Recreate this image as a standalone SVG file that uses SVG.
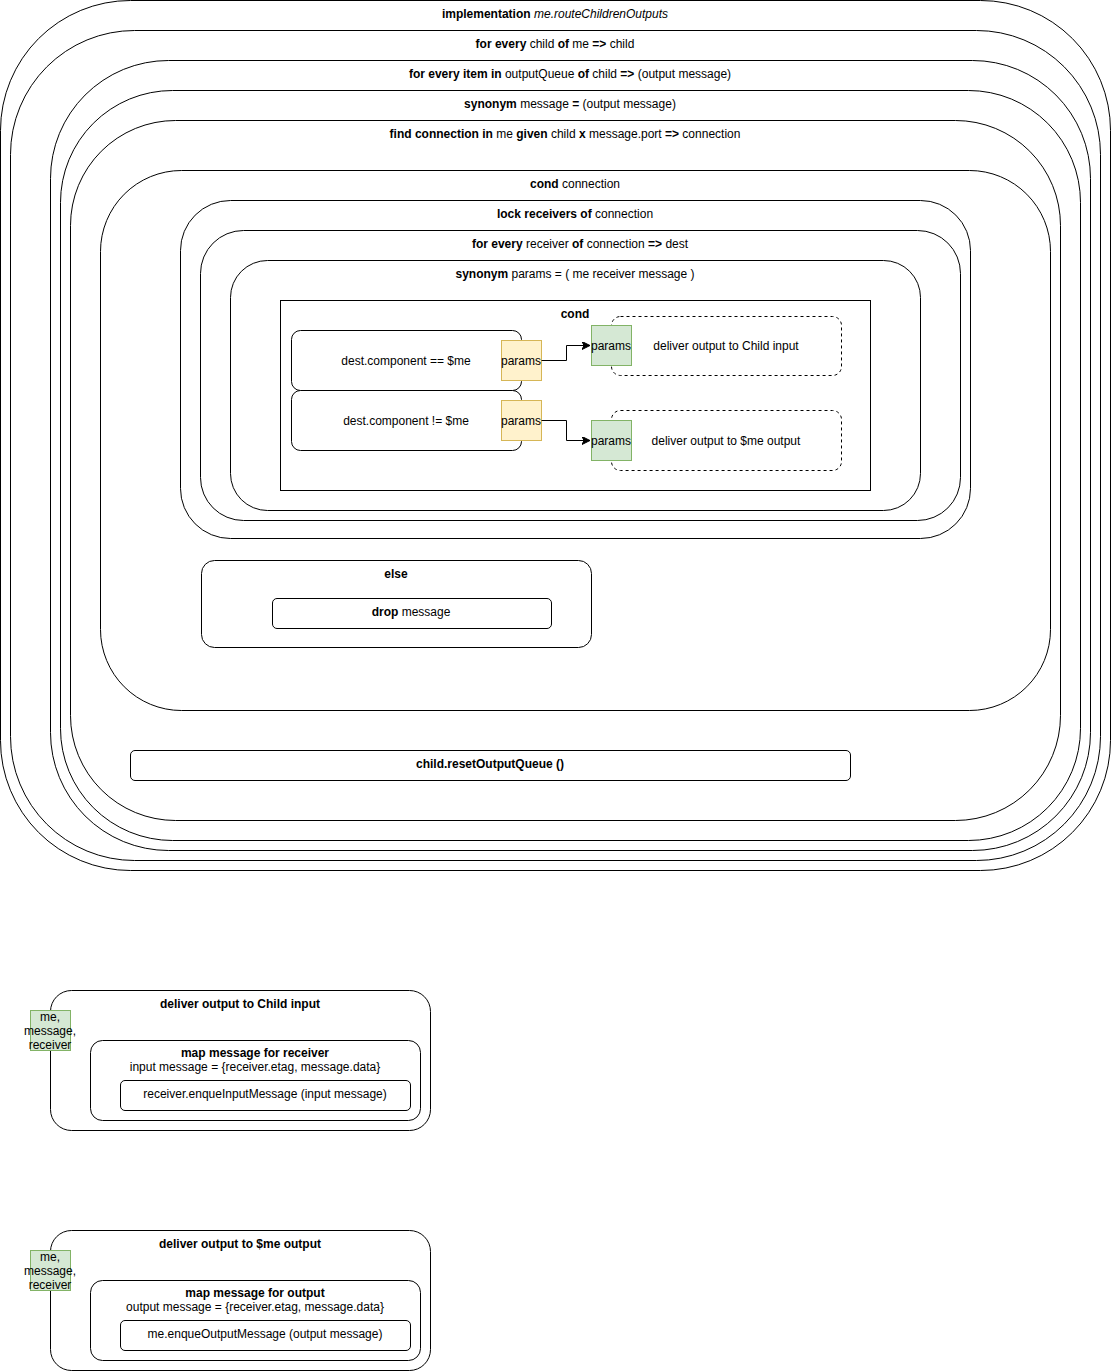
<svg xmlns="http://www.w3.org/2000/svg" width="1111" height="1371" viewBox="0 0 1111 1371">
<style>
text{font-family:"Liberation Sans",Arial,Helvetica,sans-serif;font-size:12px;fill:#000;text-anchor:middle}
.b{font-weight:bold}
.i{font-style:italic}
.box{fill:#fff;stroke:#000;stroke-width:1}
.nofill{fill:none;stroke:#000;stroke-width:1}
.dash{fill:#fff;stroke:#000;stroke-width:1;stroke-dasharray:3 3}
.green{fill:#d5e8d4;stroke:#82b366;stroke-width:1}
.yellow{fill:#fff2cc;stroke:#d6b656;stroke-width:1}
.edge{fill:none;stroke:#000;stroke-width:1}
</style>
<defs>
<marker id="arr" markerUnits="userSpaceOnUse" markerWidth="10" markerHeight="10" refX="8" refY="4" orient="auto">
<path d="M0,0 L8,4 L0,8 L2,4 Z" fill="#000" stroke="#000" stroke-width="1"/>
</marker>
</defs>
<rect width="1111" height="1371" fill="#fff"/>

<g id="impl">
<rect class="box" x="0.5" y="0.5" width="1110" height="870" rx="130" ry="130"/>
<text x="555" y="18"><tspan class="b">implementation</tspan> <tspan class="i">me.routeChildrenOutputs</tspan></text>
</g>
<g id="forEveryChild">
<rect class="box" x="10.5" y="30.5" width="1090" height="830" rx="124" ry="124"/>
<text x="555" y="48"><tspan class="b">for every</tspan> child <tspan class="b">of</tspan> me <tspan class="b">=&gt;</tspan> child</text>
</g>
<g id="forEveryItem">
<rect class="box" x="50.5" y="60.5" width="1040" height="790" rx="118" ry="118"/>
<text x="570" y="78"><tspan class="b">for every item in</tspan> outputQueue <tspan class="b">of</tspan> child <tspan class="b">=&gt;</tspan> (output message)</text>
</g>
<g id="synonymMessage">
<rect class="box" x="60.5" y="90.5" width="1020" height="750" rx="112" ry="112"/>
<text x="570" y="108"><tspan class="b">synonym</tspan> message <tspan class="b">=</tspan> (output message)</text>
</g>
<g id="findConnection">
<rect class="box" x="70.5" y="120.5" width="990" height="700" rx="105" ry="105"/>
<text x="565" y="138"><tspan class="b">find connection in</tspan> me <tspan class="b">given</tspan> child <tspan class="b">x</tspan> message.port <tspan class="b">=&gt;</tspan> connection</text>
</g>
<g id="condConnection">
<rect class="box" x="100.5" y="170.5" width="950" height="540" rx="81" ry="81"/>
<text x="575" y="188"><tspan class="b">cond</tspan> connection</text>
</g>
<g id="lockReceivers">
<rect class="box" x="180.5" y="200.5" width="790" height="338" rx="50" ry="50"/>
<text x="575" y="218"><tspan class="b">lock receivers of</tspan> connection</text>
</g>
<g id="forEveryReceiver">
<rect class="box" x="200.5" y="230.5" width="760" height="290" rx="43" ry="43"/>
<text x="580" y="248"><tspan class="b">for every</tspan> receiver <tspan class="b">of</tspan> connection <tspan class="b">=&gt;</tspan> dest</text>
</g>
<g id="synonymParams">
<rect class="box" x="230.5" y="260.5" width="690" height="250" rx="37" ry="37"/>
<text x="575" y="278"><tspan class="b">synonym</tspan> params = ( me receiver message )</text>
</g>
<g id="cond">
<rect class="box" x="280.5" y="300.5" width="590" height="190"/>
<text class="b" x="575" y="318">cond</text>
</g>
<g id="destEq">
<rect class="box" x="291.5" y="330.5" width="230" height="60" rx="9" ry="9"/>
<text x="406" y="365">dest.component == $me</text>
</g>
<g id="destNe">
<rect class="box" x="291.5" y="390.5" width="230" height="60" rx="9" ry="9"/>
<text x="406" y="425">dest.component != $me</text>
</g>
<g id="paramsOut1">
<rect class="yellow" x="501.5" y="340.5" width="40" height="40"/>
<text x="521" y="365">params</text>
</g>
<g id="paramsOut2">
<rect class="yellow" x="501.5" y="400.5" width="40" height="40"/>
<text x="521" y="425">params</text>
</g>
<g id="deliverChildCall">
<rect class="dash" x="611.5" y="316.5" width="230" height="59" rx="9" ry="9"/>
<text x="726" y="350">deliver output to Child input</text>
</g>
<g id="paramsIn1">
<rect class="green" x="591.5" y="325.5" width="40" height="40"/>
<text x="611" y="350">params</text>
</g>
<g id="deliverMeCall">
<rect class="dash" x="611.5" y="410.5" width="230" height="60" rx="9" ry="9"/>
<text x="726" y="445">deliver output to $me output</text>
</g>
<g id="paramsIn2">
<rect class="green" x="591.5" y="420.5" width="40" height="40"/>
<text x="611" y="445">params</text>
</g>
<g id="else">
<rect class="box" x="201.5" y="560.5" width="390" height="87" rx="13" ry="13"/>
<text class="b" x="396" y="578">else</text>
</g>
<g id="dropMessage">
<rect class="box" x="272.5" y="598.5" width="279" height="30" rx="4.5" ry="4.5"/>
<text x="411" y="616"><tspan class="b">drop</tspan> message</text>
</g>
<g id="resetOutputQueue">
<rect class="box" x="130.5" y="750.5" width="720" height="30" rx="4.5" ry="4.5"/>
<text class="b" x="490" y="768">child.resetOutputQueue ()</text>
</g>

<g id="deliverChildDef">
<rect class="box" x="50.5" y="990.5" width="380" height="140" rx="21" ry="21"/>
<text class="b" x="240" y="1008">deliver output to Child input</text>
</g>
<g id="deliverChildArgs">
<rect class="green" x="30.5" y="1010.5" width="40" height="40"/>
<text x="50" y="1021">me,</text>
<text x="50" y="1035">message,</text>
<text x="50" y="1049">receiver</text>
</g>
<g id="mapForReceiver">
<rect class="box" x="90.5" y="1040.5" width="330" height="80" rx="12" ry="12"/>
<text class="b" x="255" y="1057">map message for receiver</text>
<text x="255" y="1071">input message = {receiver.etag, message.data}</text>
</g>
<g id="enqueInput">
<rect class="box" x="120.5" y="1080.5" width="290" height="30" rx="4.5" ry="4.5"/>
<text x="265" y="1098">receiver.enqueInputMessage (input message)</text>
</g>

<g id="deliverMeDef">
<rect class="box" x="50.5" y="1230.5" width="380" height="140" rx="21" ry="21"/>
<text class="b" x="240" y="1248">deliver output to $me output</text>
</g>
<g id="deliverMeArgs">
<rect class="green" x="30.5" y="1250.5" width="40" height="40"/>
<text x="50" y="1261">me,</text>
<text x="50" y="1275">message,</text>
<text x="50" y="1289">receiver</text>
</g>
<g id="mapForOutput">
<rect class="box" x="90.5" y="1280.5" width="330" height="80" rx="12" ry="12"/>
<text class="b" x="255" y="1297">map message for output</text>
<text x="255" y="1311">output message = {receiver.etag, message.data}</text>
</g>
<g id="enqueOutput">
<rect class="box" x="120.5" y="1320.5" width="290" height="30" rx="4.5" ry="4.5"/>
<text x="265" y="1338">me.enqueOutputMessage (output message)</text>
</g>

<g id="connectors">
<path class="edge" d="M541.5,360.5 L566.5,360.5 L566.5,345.5 L590,345.5" marker-end="url(#arr)"/>
<path class="edge" d="M541.5,420.5 L566.5,420.5 L566.5,440.5 L590,440.5" marker-end="url(#arr)"/>
</g>
</svg>
